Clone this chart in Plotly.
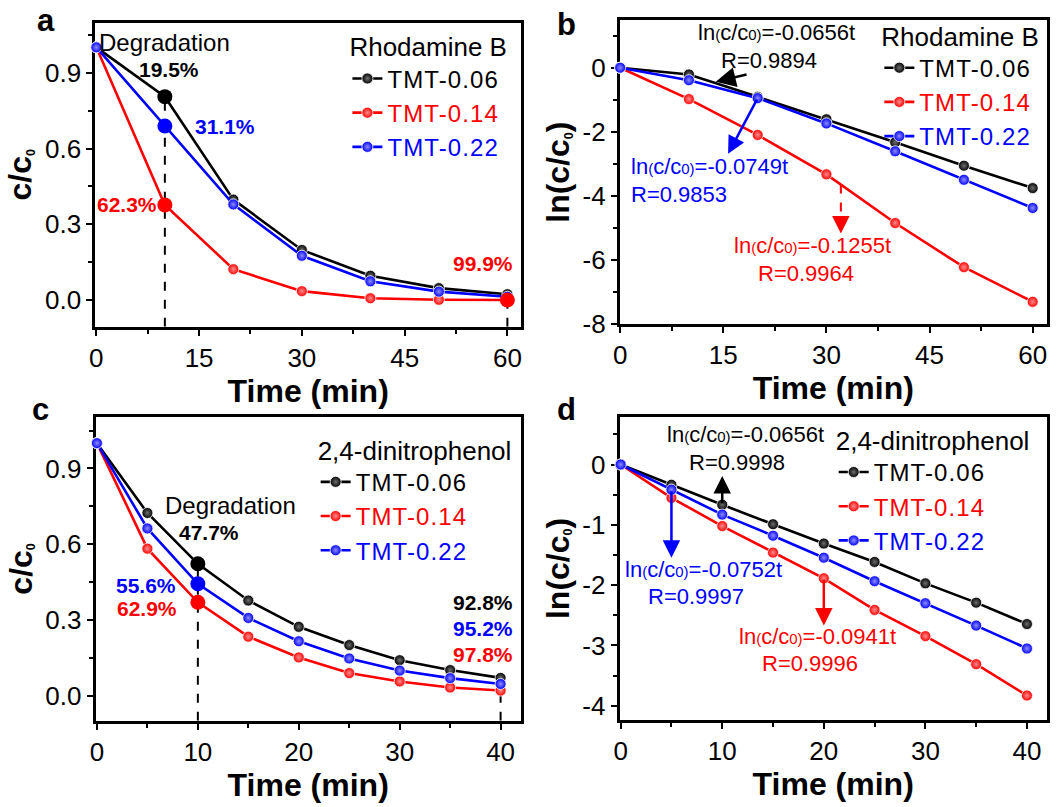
import plotly.graph_objects as go

FONT = "Liberation Sans"
W, H = 1057, 807

# ---------------- data ----------------
series_names = ["TMT-0.06", "TMT-0.14", "TMT-0.22"]
series_colors = ["#000000", "#ff0000", "#0000ff"]
ball_highlight = ["#6e6e6e", "#ff8c8c", "#8c8cff"]

# Rhodamine B: c/c0 versus time
t_rhb = [0, 10, 20, 30, 40, 50, 60]
rhb_ratio_006 = [1.00, 0.805, 0.398, 0.199, 0.097, 0.048, 0.024]
rhb_ratio_014 = [1.00, 0.377, 0.123, 0.036, 0.008, 0.002, 0.001]
rhb_ratio_022 = [1.00, 0.689, 0.379, 0.176, 0.075, 0.034, 0.014]

# Rhodamine B: ln(c/c0) versus time
rhb_ln_006 = [0, -0.21, -0.91, -1.61, -2.33, -3.06, -3.76]
rhb_ln_014 = [0, -0.98, -2.10, -3.33, -4.85, -6.23, -7.31]
rhb_ln_022 = [0, -0.39, -0.95, -1.74, -2.61, -3.50, -4.38]

# 2,4-dinitrophenol: c/c0 versus time
t_dnp = [0, 5, 10, 15, 20, 25, 30, 35, 40]
dnp_ratio_006 = [1.00, 0.724, 0.523, 0.378, 0.274, 0.202, 0.142, 0.103, 0.072]
dnp_ratio_014 = [1.00, 0.583, 0.371, 0.235, 0.153, 0.091, 0.058, 0.034, 0.022]
dnp_ratio_022 = [1.00, 0.663, 0.444, 0.309, 0.217, 0.149, 0.101, 0.071, 0.048]

# 2,4-dinitrophenol: ln(c/c0) versus time
dnp_ln_006 = [0, -0.336, -0.667, -0.99, -1.31, -1.615, -1.97, -2.29, -2.645]
dnp_ln_014 = [0, -0.553, -1.02, -1.46, -1.886, -2.41, -2.845, -3.31, -3.83]
dnp_ln_022 = [0, -0.417, -0.83, -1.18, -1.545, -1.935, -2.30, -2.67, -3.05]

# fitted pseudo-first-order rate constants and correlation coefficients
rhb_k = [0.0656, 0.1255, 0.0749]
rhb_r = [0.9894, 0.9964, 0.9853]
dnp_k = [0.0656, 0.0941, 0.0752]
dnp_r = [0.9998, 0.9996, 0.9997]

# ---------------- layout helpers ----------------
def px_x(p):
    return p / W

def px_y(p):
    return 1 - p / H

panels = {
    "a": dict(x=(89, 518), y=(23, 333), xr=[-0.15, 62.0], yr=[-0.105, 1.098]),
    "b": dict(x=(617.5, 1047.7), y=(20.7, 330), xr=[-0.05, 62.05], yr=[-8.0, 1.48]),
    "c": dict(x=(89.3, 517.7), y=(425, 734.3), xr=[-0.13, 42.0], yr=[-0.097, 1.103]),
    "d": dict(x=(617.3, 1047.7), y=(425, 733.3), xr=[-0.1, 41.95], yr=[-4.23, 0.786]),
}

fig = go.Figure()

def ax_ids(i):
    return ("x" if i == 1 else f"x{i}"), ("y" if i == 1 else f"y{i}")

def add_series(xs, ys_list, axis_idx, legend_name):
    xa, ya = ax_ids(axis_idx)
    for name, col, hl, ys in zip(series_names, series_colors, ball_highlight, ys_list):
        fig.add_trace(go.Scatter(
            x=xs, y=ys, mode="lines+markers", xaxis=xa, yaxis=ya,
            name=f"<span style='color:{col};letter-spacing:1.1px'>{name}</span>",
            legend=legend_name, cliponaxis=False,
            line=dict(color=col, width=2.6),
            marker=dict(size=11, color=col, line=dict(color="white", width=0.8),
                        gradient=dict(type="radial", color=hl)),
        ))

def add_big_points(xs, ys, col, axis_idx):
    xa, ya = ax_ids(axis_idx)
    fig.add_trace(go.Scatter(
        x=xs, y=ys, mode="markers", xaxis=xa, yaxis=ya, showlegend=False,
        cliponaxis=False, marker=dict(size=15, color=col),
    ))

def add_dashed(x, y0, y1, axis_idx, col="#000000"):
    xa, ya = ax_ids(axis_idx)
    fig.add_trace(go.Scatter(
        x=[x, x], y=[y0, y1], mode="lines", xaxis=xa, yaxis=ya, showlegend=False,
        cliponaxis=False, line=dict(color=col, width=2, dash="dash"),
    ))

# drop lines at the marked sampling times
add_dashed(t_rhb[1], panels["a"]["yr"][0], rhb_ratio_006[1], 1)
add_dashed(t_rhb[6], panels["a"]["yr"][0], rhb_ratio_014[6], 1)
add_dashed(t_dnp[2], panels["c"]["yr"][0], dnp_ratio_006[2], 3)
add_dashed(t_dnp[8], panels["c"]["yr"][0], dnp_ratio_006[8], 3)

add_series(t_rhb, [rhb_ratio_006, rhb_ratio_014, rhb_ratio_022], 1, "legend")
add_series(t_rhb, [rhb_ln_006, rhb_ln_014, rhb_ln_022], 2, "legend2")
add_series(t_dnp, [dnp_ratio_006, dnp_ratio_014, dnp_ratio_022], 3, "legend3")
add_series(t_dnp, [dnp_ln_006, dnp_ln_014, dnp_ln_022], 4, "legend4")

# emphasised points at 10 min (and complete removal at 60 min)
add_big_points([t_rhb[1]], [rhb_ratio_006[1]], series_colors[0], 1)
add_big_points([t_rhb[1], t_rhb[6]], [rhb_ratio_014[1], rhb_ratio_014[6]], series_colors[1], 1)
add_big_points([t_rhb[1]], [rhb_ratio_022[1]], series_colors[2], 1)
add_big_points([t_dnp[2]], [dnp_ratio_006[2]], series_colors[0], 3)
add_big_points([t_dnp[2]], [dnp_ratio_014[2]], series_colors[1], 3)
add_big_points([t_dnp[2]], [dnp_ratio_022[2]], series_colors[2], 3)

# red dashed guide in panel b
add_dashed(32.1, -3.65, -4.75, 2, col="#ff0000")

# ---------------- axes ----------------
axis_common = dict(
    showline=True, linecolor="black", linewidth=3, mirror=True,
    ticks="outside", ticklen=6, tickwidth=2, tickcolor="black",
    showgrid=False, zeroline=False,
    tickfont=dict(family=FONT, size=26, color="black"),
    layer="below traces",
)
title_font = dict(family=FONT, size=32, color="black")

x_ticks = {
    "a": dict(tickvals=[0, 15, 30, 45, 60], minor=7.5),
    "b": dict(tickvals=[0, 15, 30, 45, 60], minor=7.5),
    "c": dict(tickvals=[0, 10, 20, 30, 40], minor=5),
    "d": dict(tickvals=[0, 10, 20, 30, 40], minor=5),
}
y_ticks = {
    "a": dict(tickvals=[0.0, 0.3, 0.6, 0.9], ticktext=["0.0", "0.3", "0.6", "0.9"], minor=0.15),
    "b": dict(tickvals=[-8, -6, -4, -2, 0], ticktext=["-8", "-6", "-4", "-2", "0"], minor=1),
    "c": dict(tickvals=[0.0, 0.3, 0.6, 0.9], ticktext=["0.0", "0.3", "0.6", "0.9"], minor=0.15),
    "d": dict(tickvals=[-4, -3, -2, -1, 0], ticktext=["-4", "-3", "-2", "-1", "0"], minor=0.5),
}
sub0 = "<span style='font-size:18px'><sub>0</sub></span>"
y_titles = {"a": f"<b>c/c{sub0}</b>", "b": f"<b>ln(c/c{sub0})</b>",
            "c": f"<b>c/c{sub0}</b>", "d": f"<b>ln(c/c{sub0})</b>"}

layout_axes = {}
for i, key in enumerate(["a", "b", "c", "d"], start=1):
    p = panels[key]
    xid, yid = ax_ids(i)
    xn = "xaxis" if i == 1 else f"xaxis{i}"
    yn = "yaxis" if i == 1 else f"yaxis{i}"
    layout_axes[xn] = dict(
        axis_common, domain=[px_x(p["x"][0]), px_x(p["x"][1])], range=p["xr"],
        anchor=yid, tickmode="array", tickvals=x_ticks[key]["tickvals"],
        minor=dict(dtick=x_ticks[key]["minor"], tick0=0, ticks="outside", ticklen=4,
                   tickwidth=2, tickcolor="black", showgrid=False),
        title=dict(text="<b>Time (min)</b>", font=title_font, standoff=1),
    )
    layout_axes[yn] = dict(
        axis_common, domain=[px_y(p["y"][1]), px_y(p["y"][0])], range=p["yr"],
        anchor=xid, tickmode="array", tickvals=y_ticks[key]["tickvals"],
        ticktext=y_ticks[key]["ticktext"],
        minor=dict(dtick=y_ticks[key]["minor"], tick0=0, ticks="outside", ticklen=4,
                   tickwidth=2, tickcolor="black", showgrid=False),
        title=dict(text=y_titles[key], font=title_font, standoff=4),
    )

# ---------------- legends ----------------
def legend_box(x_px, y_px, title):
    return dict(
        x=px_x(x_px), y=px_y(y_px), xanchor="left", yanchor="top",
        bgcolor="rgba(0,0,0,0)", borderwidth=0, tracegroupgap=0,
        font=dict(family=FONT, size=24, color="black"),
        title=dict(text=title, font=dict(family=FONT, size=26, color="black")),
    )

legends = dict(
    legend=legend_box(343, 23, "Rhodamine B"),
    legend2=legend_box(879, 12, "Rhodamine B"),
    legend3=legend_box(311, 434, "2,4-dinitrophenol"),
    legend4=legend_box(833, 424, "2,4-dinitrophenol"),
)

# ---------------- annotations ----------------
ann = []

def text(x, y, s, axis_idx, size, color="black", bold=False, xanchor="center"):
    xa, ya = ax_ids(axis_idx)
    ann.append(dict(x=x, y=y, xref=xa, yref=ya, text=f"<b>{s}</b>" if bold else s,
                    showarrow=False, xanchor=xanchor, yanchor="middle",
                    font=dict(family=FONT, size=size, color=color)))

def arrow(x_head, y_head, x_tail, y_tail, axis_idx, color, size=1.4, width=2):
    xa, ya = ax_ids(axis_idx)
    ann.append(dict(x=x_head, y=y_head, ax=x_tail, ay=y_tail, xref=xa, yref=ya,
                    axref=xa, ayref=ya, text="", showarrow=True, arrowhead=2,
                    arrowsize=size, arrowwidth=width, arrowcolor=color,
                    standoff=0, startstandoff=0))

def pct(v):
    return f"{(1 - v) * 100:.1f}%"

def eq(k):
    small = "<span style='font-size:15px'>"
    return f"ln{small}(</span>c/c{small}0</span>{small})</span>=-{k:.4f}t"

# panel labels
for lbl, xp, yp in [("a", 39, 21), ("b", 564, 25), ("c", 34, 417), ("d", 564, 417)]:
    ann.append(dict(x=px_x(xp), y=px_y(yp), xref="paper", yref="paper", text=f"<b>{lbl}</b>",
                    showarrow=False, xanchor="center", yanchor="middle",
                    font=dict(family=FONT, size=31, color="black")))

# panel a
text(10.0, 1.021, "Degradation", 1, 24)
text(10.6, 0.913, pct(rhb_ratio_006[1]), 1, 21, "#000000", bold=True)
text(18.8, 0.689, pct(rhb_ratio_022[1]), 1, 21, "#0000ff", bold=True)
text(4.45, 0.379, pct(rhb_ratio_014[1]), 1, 21, "#ff0000", bold=True)
text(56.5, 0.146, pct(rhb_ratio_014[6]), 1, 21, "#ff0000", bold=True)

# panel b
text(22.7, 1.10, eq(rhb_k[0]), 2, 22, "#000000")
text(21.6, 0.21, f"R={rhb_r[0]:.4f}", 2, 22, "#000000")
arrow(13.9, -0.44, 18.6, -0.20, 2, "#000000", size=1.6, width=2.5)
text(1.3, -3.10, eq(rhb_k[2]), 2, 22, "#0000ff", xanchor="left")
text(1.3, -3.97, f"R={rhb_r[2]:.4f}", 2, 22, "#0000ff", xanchor="left")
arrow(15.7, -2.69, t_rhb[2], rhb_ln_022[2], 2, "#0000ff", size=1.4, width=2.5)
text(28.0, -5.55, eq(rhb_k[1]), 2, 22, "#ff0000")
text(27.0, -6.42, f"R={rhb_r[1]:.4f}", 2, 22, "#ff0000")
arrow(32.1, -5.18, 32.1, -4.70, 2, "#ff0000", size=1.4, width=2.5)

# panel c
text(13.2, 0.754, "Degradation", 3, 24)
text(11.07, 0.646, pct(dnp_ratio_006[2]), 3, 21, "#000000", bold=True)
text(4.89, 0.437, pct(dnp_ratio_022[2]), 3, 21, "#0000ff", bold=True)
text(5.01, 0.346, pct(dnp_ratio_014[2]), 3, 21, "#ff0000", bold=True)
text(38.3, 0.372, pct(dnp_ratio_006[8]), 3, 21, "#000000", bold=True)
text(38.3, 0.269, pct(dnp_ratio_022[8]), 3, 21, "#0000ff", bold=True)
text(38.3, 0.165, pct(dnp_ratio_014[8]), 3, 21, "#ff0000", bold=True)

# panel d
text(12.28, 0.49, eq(dnp_k[0]), 4, 22, "#000000")
text(11.46, 0.04, f"R={dnp_r[0]:.4f}", 4, 22, "#000000")
arrow(t_dnp[2], -0.19, t_dnp[2], dnp_ln_006[2], 4, "#000000", size=1.4, width=2.5)
text(8.18, -1.735, eq(dnp_k[2]), 4, 22, "#0000ff")
text(7.4, -2.195, f"R={dnp_r[2]:.4f}", 4, 22, "#0000ff")
arrow(t_dnp[1], -1.545, t_dnp[1], dnp_ln_022[1], 4, "#0000ff", size=1.4, width=2.5)
text(19.42, -2.845, eq(dnp_k[1]), 4, 22, "#ff0000")
text(18.64, -3.30, f"R={dnp_r[1]:.4f}", 4, 22, "#ff0000")
arrow(t_dnp[4], -2.67, t_dnp[4], dnp_ln_014[4], 4, "#ff0000", size=1.4, width=2.5)

fig.update_layout(
    width=W, height=H, margin=dict(l=0, r=0, t=0, b=0),
    paper_bgcolor="white", plot_bgcolor="white",
    font=dict(family=FONT, color="black"),
    annotations=ann, **layout_axes, **legends,
)

fig.write_html("out.html")
